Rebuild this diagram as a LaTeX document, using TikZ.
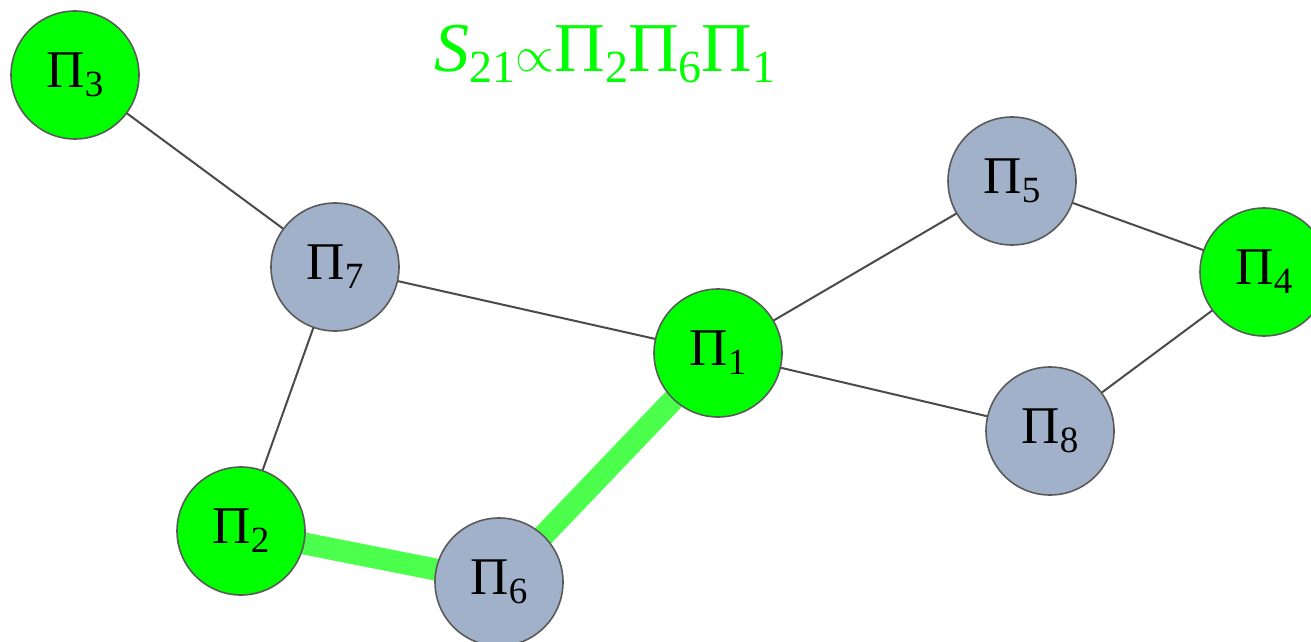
\documentclass[tikz,border=0pt]{standalone}
\usepackage{fontspec}
\setmainfont{Liberation Serif}
\usetikzlibrary{backgrounds}
\definecolor{nodegreen}{HTML}{00FF00}
\definecolor{nodeblue}{HTML}{A2B1CA}
\definecolor{edgegray}{HTML}{4A4A4A}
\definecolor{bordergray}{HTML}{5A5A5A}
\definecolor{pathgreen}{HTML}{4CFF4C}
\newcommand{\nsub}[1]{\raisebox{-4.5pt}{\fontsize{18.5}{20}\selectfont #1}}
\newcommand{\tsub}[1]{\raisebox{-5.5pt}{\fontsize{23}{25}\selectfont #1}}
\newcommand{\PiN}[1]{Π\nsub{#1}}
\tikzset{
  vert/.style={circle, draw=bordergray, line width=0.8pt, minimum size=64pt, inner sep=0pt,
    font=\fontsize{26.5}{30}\selectfont},
  gnode/.style={vert, fill=nodegreen},
  bnode/.style={vert, fill=nodeblue},
  link/.style={draw=edgegray, line width=1pt},
  hot/.style={draw=pathgreen, line width=11pt},
}
\begin{document}
\begin{tikzpicture}[x=0.5pt, y=-0.5pt]
\clip (0,0) rectangle (1311,642);
\useasboundingbox (0,0) rectangle (1311,642);
\node[gnode] (p3) at (75,75) {\PiN{3}};
\node[bnode] (p7) at (335,267) {\PiN{7}};
\node[gnode] (p1) at (718,353) {\PiN{1}};
\node[bnode] (p5) at (1012,181) {\PiN{5}};
\node[gnode] (p4) at (1264,272) {\PiN{4}};
\node[bnode] (p8) at (1050,431) {\PiN{8}};
\node[gnode] (p2) at (241,531) {\PiN{2}};
\node[bnode] (p6) at (499,582) {\PiN{6}};
\node[anchor=base, text=nodegreen, inner sep=0pt, font=\fontsize{35}{40}\selectfont] (title) at (605,72)
  {\textit{S}\tsub{21}$\propto$Π\tsub{2}Π\tsub{6}Π\tsub{1}};
\begin{scope}[on background layer]
\draw[link] (p3.center) -- (p7.center);
\draw[link] (p7.center) -- (p1.center);
\draw[link] (p7.center) -- (p2.center);
\draw[link] (p1.center) -- (p5.center);
\draw[link] (p1.center) -- (p8.center);
\draw[link] (p5.center) -- (p4.center);
\draw[link] (p8.center) -- (p4.center);
\draw[hot] (p2.center) -- (p6.center);
\draw[hot] (p6.center) -- (p1.center);
\end{scope}
\end{tikzpicture}
\end{document}
